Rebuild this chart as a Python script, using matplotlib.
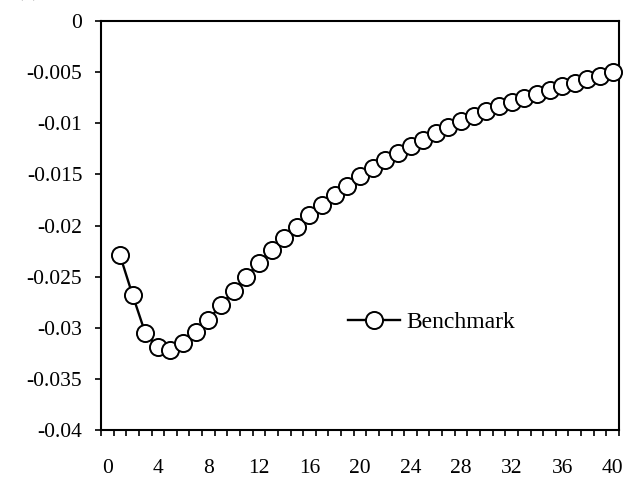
import matplotlib
matplotlib.use("Agg")
import matplotlib.pyplot as plt
from matplotlib.ticker import FixedLocator

plt.rcParams['font.family'] = ['Liberation Serif', 'DejaVu Serif']

periods = list(range(1, 41))
benchmark = [-0.0229, -0.0268, -0.0305, -0.0319, -0.0322, -0.0315, -0.0304, -0.0292,
             -0.0278, -0.0264, -0.0250, -0.0237, -0.0224, -0.0212, -0.0201, -0.0190,
             -0.0180, -0.0170, -0.0161, -0.0152, -0.0144, -0.0136, -0.0129, -0.0122,
             -0.0116, -0.0110, -0.0104, -0.0098, -0.0093, -0.0088, -0.0083, -0.0079,
             -0.0075, -0.0071, -0.0067, -0.0064, -0.0061, -0.0057, -0.0054, -0.0050]
x_labels = [0, 4, 8, 12, 16, 20, 24, 28, 32, 36, 40]
y_ticks = [0, -0.005, -0.01, -0.015, -0.02, -0.025, -0.03, -0.035, -0.04]
y_labels = ['0', '-0.005', '-0.01', '-0.015', '-0.02', '-0.025', '-0.03', '-0.035', '-0.04']

FS = 15.5

fig = plt.figure(figsize=(6.38, 4.79), dpi=100)
ax = fig.add_axes([101/638, 1 - 430/479, 518/638, 409/479])

ax.plot(periods, benchmark, color='black', linewidth=1.7, marker='o',
        markersize=12.3, markerfacecolor='white', markeredgecolor='black',
        markeredgewidth=1.4, label='Benchmark', clip_on=False, zorder=3)

ax.set_xlim(-0.5, 40.5)
ax.set_ylim(-0.04, 0)

ax.xaxis.set_major_locator(FixedLocator(x_labels))
ax.set_xticklabels([str(v) for v in x_labels])
ax.xaxis.set_minor_locator(FixedLocator([i + 0.5 for i in range(-1, 41)]))
ax.tick_params(axis='x', which='major', length=0, pad=21, labelsize=FS)
ax.tick_params(axis='x', which='minor', length=4.5, width=1.2, direction='out')

ax.set_yticks(y_ticks)
ax.set_yticklabels(y_labels)
ax.tick_params(axis='y', which='major', length=4.5, width=1.2, direction='out',
               pad=9, labelsize=FS)

for side in ['left', 'right', 'top', 'bottom']:
    ax.spines[side].set_linewidth(1.5)
    ax.spines[side].set_color('black')

ax.legend(loc='center left', bbox_to_anchor=(0.477, 0.264), frameon=False,
          borderpad=0, borderaxespad=0, handlelength=2.2, handletextpad=0.25,
          fontsize=17)

fig.text(0.044, 1.008, '(a)', ha='center', va='baseline', fontsize=FS)

fig.savefig('out.png', dpi=100)
